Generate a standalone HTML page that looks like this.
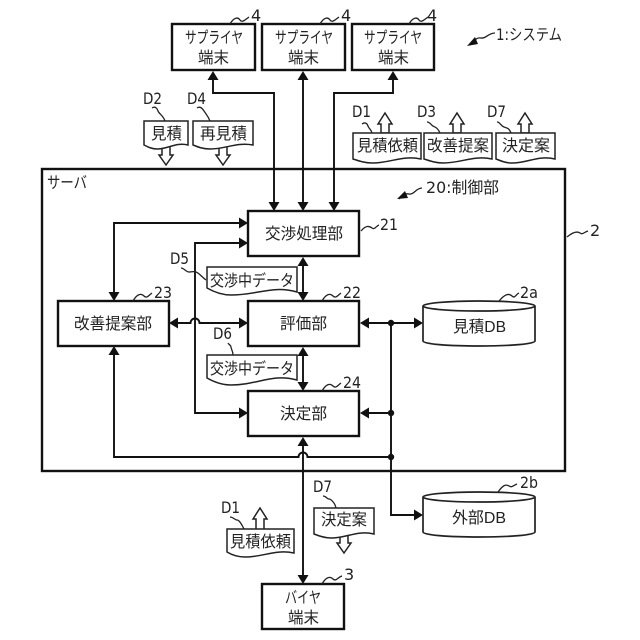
<!DOCTYPE html>
<html><head><meta charset="utf-8">
<style>
html,body{margin:0;padding:0;background:#fff}
svg{display:block}
text{font-family:"Liberation Sans","Noto Sans CJK JP",sans-serif;font-size:16px;fill:#222}
.l{font-family:"DejaVu Sans","Noto Sans CJK JP",sans-serif;font-size:16px}
.b{fill:#fff;stroke:#111;stroke-width:2.4}
.w{fill:none;stroke:#111;stroke-width:1.9}
.s{fill:none;stroke:#222;stroke-width:1.3}
.d{fill:#fff;stroke:#222;stroke-width:1.5}
.a{fill:#111;stroke:none}
</style></head><body>
<svg width="640" height="640" viewBox="0 0 640 640" xmlns="http://www.w3.org/2000/svg">
<!-- server -->
<rect x="42" y="169" width="523" height="302" class="b" fill="none" style="fill:#fff"/>
<!-- wires -->
<path class="w" d="M213 78V93H274V203M303 78V203M334 203V93H393V78"/>
<path class="w" d="M114 293V223H240M240 243H195V413H240"/>
<path class="w" d="M177 323H190.500a4.500 4.500 0 0 1 9 0H240"/>
<path class="w" d="M303 264V293M303 354V383"/>
<path class="w" d="M367 323H415M367 413H391M391 323V515H415"/>
<path class="w" d="M114 354V457H298.500a4.500 4.500 0 0 1 9 0H391"/>
<path class="w" d="M303 444V576"/>
<!-- arrowheads -->
<g class="a">
<polygon points="213,71 207.500,80 218.500,80"/><polygon points="303,71 297.500,80 308.500,80"/><polygon points="393,71 387.500,80 398.500,80"/>
<polygon points="274,211 268.500,202 279.500,202"/><polygon points="303,211 297.500,202 308.500,202"/><polygon points="334,211 328.500,202 339.500,202"/>
<polygon points="248,223 239,217.500 239,228.500"/><polygon points="248,243 239,237.500 239,248.500"/>
<polygon points="114,301 108.500,292 119.500,292"/><polygon points="114,346 108.500,355 119.500,355"/>
<polygon points="169,323 178,317.500 178,328.500"/><polygon points="248,323 239,317.500 239,328.500"/>
<polygon points="248,413 239,407.500 239,418.500"/>
<polygon points="303,257 297.500,266 308.500,266"/><polygon points="303,301 297.500,292 308.500,292"/>
<polygon points="303,347 297.500,356 308.500,356"/><polygon points="303,391 297.500,382 308.500,382"/>
<polygon points="303,437 297.500,446 308.500,446"/><polygon points="303,584 297.500,575 308.500,575"/>
<polygon points="360,323 369,317.500 369,328.500"/><polygon points="423,323 414,317.500 414,328.500"/>
<polygon points="360,413 369,407.500 369,418.500"/><polygon points="423,515 414,509.500 414,520.500"/>
<circle cx="391" cy="323" r="3.2"/><circle cx="391" cy="413" r="3.2"/><circle cx="391" cy="457" r="3.2"/>
</g>
<!-- boxes -->
<rect x="172" y="24" width="83" height="46" class="b"/>
<rect x="262" y="24" width="83" height="46" class="b"/>
<rect x="352" y="24" width="82" height="46" class="b"/>
<rect x="248" y="211" width="111" height="45" class="b"/>
<rect x="248" y="301" width="111" height="45" class="b"/>
<rect x="248" y="391" width="111" height="45" class="b"/>
<rect x="58" y="301" width="111" height="45" class="b"/>
<rect x="262" y="584" width="82" height="45" class="b"/>
<!-- DBs -->
<path class="d" style="stroke-width:1.7" d="M423 306V341C423 344 448 346 479 346S535 344 535 341V306"/>
<ellipse cx="479" cy="306" rx="56" ry="5" class="d" style="stroke-width:1.7"/>
<path class="d" style="stroke-width:1.7" d="M423 497V532C423 535 448 537 479 537S535 535 535 532V497"/>
<ellipse cx="479" cy="497" rx="56" ry="5" class="d" style="stroke-width:1.7"/>
<!-- hollow arrows -->
<g class="d">
<polygon points="385,113 378,124 381,124 381,133 389,133 389,124 392,124"/>
<polygon points="457,113 450,124 453,124 453,133 461,133 461,124 464,124"/>
<polygon points="525,113 518,124 521,124 521,133 529,133 529,124 532,124"/>
<polygon points="166,165 159,155 162,155 162,145 170,145 170,155 173,155"/>
<polygon points="223,165 216,155 219,155 219,145 227,145 227,155 230,155"/>
<polygon points="260,508 253,519 256,519 256,530 264,530 264,519 267,519"/>
<polygon points="344,553 337,543 340,543 340,534 348,534 348,543 351,543"/>
</g>
<!-- documents -->
<g class="d">
<path d="M144 121H188V145C176 142 168 149 157 149C152 149 148 147 144 145Z"/>
<path d="M193 121H253V145C236 142 226 149 210 149C203 149 198 147 193 145Z"/>
<path d="M353 133H421V159C402 155 391 163 372 163C365 163 359 161 353 159Z"/>
<path d="M424 133H492V159C473 155 462 163 443 163C436 163 430 161 424 159Z"/>
<path d="M496 133H555V159C538 155 528 163 512 163C506 163 501 161 496 159Z"/>
<path d="M207 267H297V292C272 285 258 295 231 295C222 295 214 292 207 288Z"/>
<path d="M207 355H297V380C272 373 258 385 231 385C222 385 214 382 207 378Z"/>
<path d="M227 529H294V553C275 549 264 557 245 557C238 557 232 555 227 552Z"/>
<path d="M314 508H374V534C357 530 347 538 331 538C325 538 319 536 314 534Z"/>
</g>
<!-- squiggles -->
<g class="s">
<path d="M230 24C234 17 238 17 240 20S245 20 249 17"/>
<path d="M320 24C324 17 328 17 330 20S335 20 339 17"/>
<path d="M409 24C413 17 417 17 419 20S424 20 428 17"/>
<path d="M495 33C488 33 486 39 481 38S474 42 470 44"/>
<path d="M422 188C416 188 414 195 409 194S402 196 399 199"/>
<path d="M361 231C366 225 369 226 372 228S376 226 379 225"/>
<path d="M567 237C573 232 577 231 580 233S584 232 588 231"/>
<path d="M322 301C326 294 330 293 333 296S338 295 341 293"/>
<path d="M499 301C505 294 509 293 512 296S516 294 519 293"/>
<path d="M133 301C137 294 141 293 144 296S149 295 152 293"/>
<path d="M322 391C326 384 330 383 333 386S338 385 341 383"/>
<path d="M322 584C326 577 330 576 333 579S338 577 342 576"/>
<path d="M498 492C503 485 506 484 509 486S514 485 517 484"/>
<path d="M152 108C155 106 157 108 158 111S163 115 165 121"/>
<path d="M197 108C200 106 202 108 204 111S208 116 210 121"/>
<path d="M362 124C365 122 367 123 368 126S371 129 372 133"/>
<path d="M427 122C430 122 431 125 433 126S438 128 440 133"/>
<path d="M497 122C500 122 501 126 504 127S509 128 511 133"/>
<path d="M181 268C184 268 186 272 189 272S193 271 196 272S202 277 206 280"/>
<path d="M228 343C229 345 231 345 231 347S233 351 233 355"/>
<path d="M230 517C233 517 235 520 237 520S241 523 244 529"/>
<path d="M323 496C326 496 327 499 329 499S335 503 336 508"/>
</g>
<g class="a"><polygon points="467,46 475,37 478,44"/><polygon points="397,199 405,191 408,198"/></g>
<!-- labels -->
<g lengthAdjust="spacingAndGlyphs">
<text x="185" y="43" textLength="58" lengthAdjust="spacingAndGlyphs">サプライヤ</text><text x="198" y="63" textLength="31" lengthAdjust="spacingAndGlyphs">端末</text>
<text x="275" y="43" textLength="58" lengthAdjust="spacingAndGlyphs">サプライヤ</text><text x="288" y="63" textLength="31" lengthAdjust="spacingAndGlyphs">端末</text>
<text x="364" y="43" textLength="58" lengthAdjust="spacingAndGlyphs">サプライヤ</text><text x="378" y="63" textLength="31" lengthAdjust="spacingAndGlyphs">端末</text>
<text x="47" y="188" textLength="40" lengthAdjust="spacingAndGlyphs">サーバ</text>
<text x="265" y="239" textLength="78" lengthAdjust="spacingAndGlyphs">交渉処理部</text>
<text x="280" y="329" textLength="47" lengthAdjust="spacingAndGlyphs">評価部</text>
<text x="280" y="419" textLength="47" lengthAdjust="spacingAndGlyphs">決定部</text>
<text x="74" y="329" textLength="78" lengthAdjust="spacingAndGlyphs">改善提案部</text>
<text x="285" y="603" textLength="36" lengthAdjust="spacingAndGlyphs">バイヤ</text><text x="288" y="623" textLength="31" lengthAdjust="spacingAndGlyphs">端末</text>
<text x="453" y="332" textLength="53" lengthAdjust="spacingAndGlyphs">見積DB</text>
<text x="452" y="523" textLength="54" lengthAdjust="spacingAndGlyphs">外部DB</text>
<text x="151" y="139" textLength="31" lengthAdjust="spacingAndGlyphs">見積</text>
<text x="200" y="139" textLength="47" lengthAdjust="spacingAndGlyphs">再見積</text>
<text x="357" y="151" textLength="61" lengthAdjust="spacingAndGlyphs">見積依頼</text>
<text x="427" y="151" textLength="62" lengthAdjust="spacingAndGlyphs">改善提案</text>
<text x="502" y="151" textLength="48" lengthAdjust="spacingAndGlyphs">決定案</text>
<text x="210" y="286" textLength="84" lengthAdjust="spacingAndGlyphs">交渉中データ</text>
<text x="210" y="374" textLength="84" lengthAdjust="spacingAndGlyphs">交渉中データ</text>
<text x="230" y="547" textLength="61" lengthAdjust="spacingAndGlyphs">見積依頼</text>
<text x="321" y="525" textLength="46" lengthAdjust="spacingAndGlyphs">決定案</text>
</g>
<text class="l" x="143" y="104" textLength="19" lengthAdjust="spacingAndGlyphs">D2</text><text class="l" x="187" y="104" textLength="19" lengthAdjust="spacingAndGlyphs">D4</text>
<text class="l" x="352" y="117" textLength="19" lengthAdjust="spacingAndGlyphs">D1</text><text class="l" x="417" y="117" textLength="19" lengthAdjust="spacingAndGlyphs">D3</text><text class="l" x="487" y="117" textLength="19" lengthAdjust="spacingAndGlyphs">D7</text>
<text class="l" x="170" y="264" textLength="19" lengthAdjust="spacingAndGlyphs">D5</text><text class="l" x="213" y="339" textLength="19" lengthAdjust="spacingAndGlyphs">D6</text>
<text class="l" x="221" y="513" textLength="19" lengthAdjust="spacingAndGlyphs">D1</text><text class="l" x="313" y="492" textLength="19" lengthAdjust="spacingAndGlyphs">D7</text>
<text class="l" x="251" y="21">4</text><text class="l" x="341" y="21">4</text><text class="l" x="427" y="21">4</text>
<text class="l" x="496" y="40" textLength="66" lengthAdjust="spacingAndGlyphs">1:システム</text>
<text class="l" x="426" y="193" textLength="73" lengthAdjust="spacingAndGlyphs">20:制御部</text>
<text class="l" x="380" y="230" textLength="18" lengthAdjust="spacingAndGlyphs">21</text><text class="l" x="590" y="236">2</text>
<text class="l" x="343" y="298" textLength="18" lengthAdjust="spacingAndGlyphs">22</text><text class="l" x="520" y="298" textLength="18" lengthAdjust="spacingAndGlyphs">2a</text>
<text class="l" x="154" y="298" textLength="18" lengthAdjust="spacingAndGlyphs">23</text><text class="l" x="343" y="388" textLength="18" lengthAdjust="spacingAndGlyphs">24</text>
<text class="l" x="344" y="580">3</text><text class="l" x="520" y="488" textLength="18" lengthAdjust="spacingAndGlyphs">2b</text>
</svg>
</body></html>
